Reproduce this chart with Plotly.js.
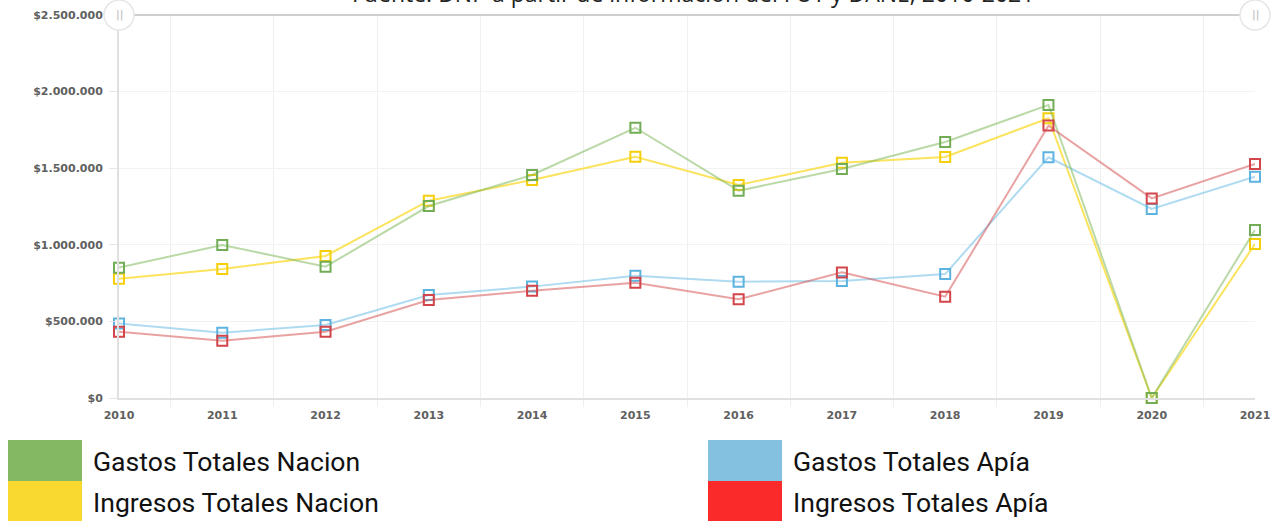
<!DOCTYPE html>
<html>
<head>
<meta charset="utf-8">
<script src="https://cdn.plot.ly/plotly-3.0.1.min.js"></script>
<style>
  html, body { margin: 0; padding: 0; background: #fff; }
  #chart { width: 1272px; height: 521px; }
</style>
</head>
<body>
<div id="chart"></div>
<script>
const years = [2010, 2011, 2012, 2013, 2014, 2015, 2016, 2017, 2018, 2019, 2020, 2021];
const gastosNacion   = [851000, 999000, 857000, 1253000, 1456000, 1764000, 1353000, 1495000, 1671000, 1913000, 0, 1097000];
const ingresosNacion = [779000, 842000, 927000, 1288000, 1423000, 1575000, 1390000, 1536000, 1573000, 1826000, 0, 1005000];
const gastosApia     = [487000, 426000, 477000, 672000, 727000, 798000, 759000, 764000, 809000, 1571000, 1234000, 1444000];
const ingresosApia   = [433000, 374000, 433000, 640000, 700000, 753000, 644000, 820000, 661000, 1778000, 1303000, 1527000];
const seriesNames = ["Gastos Totales Nacion", "Ingresos Totales Nacion", "Gastos Totales Apía", "Ingresos Totales Apía"];
const yTickVals = [0, 500000, 1000000, 1500000, 2000000, 2500000];
const yTickText = ["$0", "$500.000", "$1.000.000", "$1.500.000", "$2.000.000", "$2.500.000"];
const titleText = "Fuente: DNP a partir de información del FUT y DANE, 2010-2021";

const lineColors   = ["rgba(130,185,95,0.55)", "rgba(250,218,40,0.75)", "rgba(110,190,230,0.55)", "rgba(215,85,85,0.55)"];
const markerColors = ["#72ad55", "#f5cf0a", "#5cb3e0", "#d2454a"];
const legendColors = ["#84b862", "#f9d82f", "#84c1e0", "#fb2a2a"];
const data = [gastosNacion, ingresosNacion, gastosApia, ingresosApia];
const drawOrder = [1, 2, 0, 3];

const traces = drawOrder.map(i => ({
  x: years, y: data[i], type: "scatter", mode: "lines+markers", name: seriesNames[i],
  line: { color: lineColors[i], width: 2 },
  marker: { symbol: "square-open", size: 10, color: markerColors[i], line: { width: 2, color: markerColors[i] } },
  cliponaxis: false, hoverinfo: "x+y"
}));

// pixel -> paper helpers (plot area 119..1255 x, 15..398 y)
const PL = 119, PR = 1255, PT = 15, PB = 398;
const px = v => (v - PL) / (PR - PL);
const py = v => (PB - v) / (PB - PT);

const shapes = [
  { type: "line", xref: "paper", yref: "paper", x0: 0, x1: 1, y0: 1, y1: 1, line: { color: "#cfcfcf", width: 2 }, layer: "above" }
];
const annotations = [
  { text: titleText, xref: "paper", yref: "paper", x: px(693), y: py(-7), xanchor: "center", yanchor: "middle",
    showarrow: false, font: { family: "Open Sans", size: 23, color: "#222" } }
];
// range handles
[PL, PR].forEach(h => {
  shapes.push({ type: "circle", xref: "paper", yref: "paper", x0: px(h - 15), x1: px(h + 15), y0: py(30), y1: py(0),
    fillcolor: "#ffffff", line: { color: "#e6e6e6", width: 1.5 }, layer: "above" });
  annotations.push({ text: "||", xref: "paper", yref: "paper", x: px(h), y: py(14), xanchor: "center", yanchor: "middle",
    showarrow: false, font: { family: "DejaVu Sans", size: 11, color: "#bbb" } });
});
// custom legend
const legPos = [[8, 440], [8, 481], [708, 440], [708, 481]];
seriesNames.forEach((n, i) => {
  const [lx, ly] = legPos[i];
  shapes.push({ type: "rect", xref: "paper", yref: "paper", x0: px(lx), x1: px(lx + 74), y0: py(ly + 41), y1: py(ly),
    fillcolor: legendColors[i], line: { width: 0 } });
  annotations.push({ text: n, xref: "paper", yref: "paper", x: px(lx + 83), y: py(ly + 21), xanchor: "left", yanchor: "middle",
    showarrow: false, font: { family: "Roboto", size: 26.6, color: "#111" } });
});

const tickFont = { family: "DejaVu Sans", size: 11, color: "#606060", weight: "bold" };
const layout = {
  width: 1272, height: 521,
  margin: { l: PL, r: 1272 - PR, t: PT, b: 521 - PB, pad: 0 },
  paper_bgcolor: "#fff", plot_bgcolor: "#fff",
  showlegend: false,
  xaxis: {
    range: [2010, 2021], tickmode: "array", tickvals: years, ticktext: years.map(String),
    showgrid: false, zeroline: false, showline: true, linecolor: "#e0e0e0", linewidth: 2,
    ticks: "", tickfont: tickFont, ticklabelstandoff: 6,
    minor: { tickmode: "array", tickvals: years.slice(0, -1).map(y => y + 0.5), showgrid: true, gridcolor: "#efefef", gridwidth: 1,
      ticks: "outside", ticklen: 7, tickcolor: "#efefef" },
    fixedrange: true
  },
  yaxis: {
    range: [0, 2500000], tickmode: "array", tickvals: yTickVals, ticktext: yTickText,
    showgrid: true, gridcolor: "#f2f2f2", gridwidth: 1, zeroline: false,
    showline: true, linecolor: "#e0e0e0", linewidth: 2,
    ticks: "outside", ticklen: 8, tickcolor: "#e6e6e6", ticklabelstandoff: 4,
    tickfont: tickFont,
    fixedrange: true
  },
  shapes: shapes,
  annotations: annotations
};

Plotly.newPlot("chart", traces, layout, { displayModeBar: false, staticPlot: true });
</script>
</body>
</html>
